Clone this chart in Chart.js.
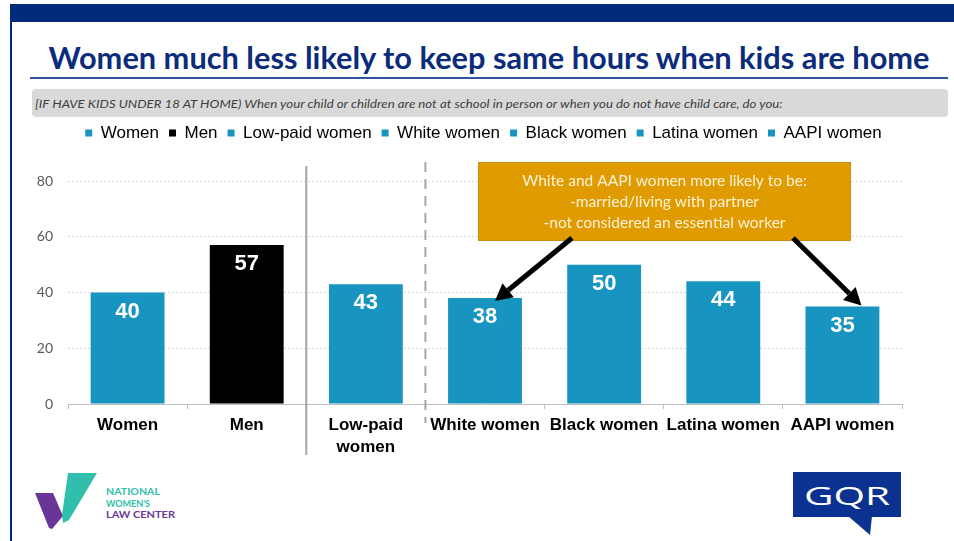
<!DOCTYPE html>
<html lang="en">
<head>
<meta charset="UTF-8">
<meta name="viewport" content="width=device-width, initial-scale=1.0">
<title>Women much less likely to keep same hours when kids are home</title>
<style>
    body {
        margin: 0;
        width: 954px;
        height: 541px;
        position: relative;
        overflow: hidden;
        background: #fff;
        font-family: Lato, 'Open Sans', sans-serif;
    }

    .top-bar { position: absolute; left: 10px; top: 4px; right: 0; height: 18px; background: #012a7c; }
    .left-line { position: absolute; left: 10px; top: 4px; bottom: 0; width: 2px; background: #012a7c; }

    .title {
        position: absolute;
        left: 30px;
        width: 918px;
        top: 38px;
        display: flex;
        justify-content: center;
        white-space: nowrap;
        font-size: 31px;
        font-weight: 700;
        color: #0b2c7a;
    }
    .title span { display: inline-block; }

    .title-rule { position: absolute; left: 30px; width: 918px; top: 77px; height: 2px; background: #3152a0; }

    .question {
        position: absolute;
        left: 32px;
        width: 916px;
        top: 89px;
        height: 28px;
        background: #d9d9d9;
        border-radius: 4px;
        font-size: 11px;
        font-style: italic;
        color: #404040;
        line-height: 29px;
        white-space: nowrap;
    }
    .question span { display: inline-block; margin-left: 3px; transform-origin: left center; }

    #chartWrap { position: absolute; left: 0; top: 100px; width: 954px; height: 364px; }

    .nwlc { position: absolute; left: 30px; top: 468px; }
    .gqr { position: absolute; left: 793px; top: 472px; }
</style>
</head>
<body>

<div class="top-bar"></div>
<div class="left-line"></div>

<div class="title"><span id="titleText">Women much less likely to keep same hours when kids are home</span></div>
<div class="title-rule"></div>
<div class="question"><span id="questionText">[IF HAVE KIDS UNDER 18 AT HOME) When your child or children are not at school in person or when you do not have child care, do you:</span></div>

<div id="chartWrap"><canvas id="hoursChart"></canvas></div>

<!-- logos -->
<svg class="nwlc" width="160" height="70" viewBox="0 0 160 70">
    <polygon points="5,25 23,25 33,48 22,61 19,60" fill="#6a3597"/>
    <polygon points="38,5 67,5 39,52 33,55 32,47" fill="#2fbfac"/>
    <g font-family="Lato, sans-serif" font-weight="700" font-size="9">
        <text x="76" y="27" fill="#2fbfac" textLength="54" lengthAdjust="spacingAndGlyphs">NATIONAL</text>
        <text x="76" y="39" fill="#2fbfac" textLength="44" lengthAdjust="spacingAndGlyphs">WOMEN'S</text>
        <text x="76" y="50" fill="#6a3597" textLength="69" lengthAdjust="spacingAndGlyphs">LAW CENTER</text>
    </g>
</svg>

<svg class="gqr" width="110" height="66" viewBox="0 0 110 66">
    <rect x="0" y="0" width="108" height="45" fill="#0b3291"/>
    <polygon points="55,44 79,44 77,63" fill="#0b3291"/>
    <text x="11" y="33" fill="#fff" font-family="'Open Sans', sans-serif" font-size="25" textLength="86" lengthAdjust="spacingAndGlyphs">GQR</text>
</svg>

<script src="https://cdn.jsdelivr.net/npm/chart.js"></script>
<script>
    // chart data
    const categories = ['Women', 'Men', ['Low-paid', 'women'], 'White women', 'Black women', 'Latina women', 'AAPI women'];
    const legendNames = ['Women', 'Men', 'Low-paid women', 'White women', 'Black women', 'Latina women', 'AAPI women'];
    const values = [40, 57, 43, 38, 50, 44, 35];
    const barColors = ['#1894c1', '#000000', '#1894c1', '#1894c1', '#1894c1', '#1894c1', '#1894c1'];
    const yTicks = [0, 20, 40, 60, 80];
    const calloutLines = [
        'White and AAPI women more likely to be:',
        '-married/living with partner',
        '-not considered an essential worker'
    ];

    // stretch the header texts to the width they take in the slide
    function fitWidth(id, target) {
        const el = document.getElementById(id);
        el.style.transform = 'scaleX(' + (target / el.offsetWidth) + ')';
    }
    fitWidth('titleText', 881);
    fitWidth('questionText', 748);

    // push the plot down below the legend, and centre the legend on the slide
    const legendSpacer = {
        id: 'legendSpacer',
        beforeInit(chart) {
            const fit = chart.legend.fit;
            chart.legend.fit = function () {
                fit.call(this);
                this.height += 29.5;
            };
        },
        afterLayout(chart) {
            chart.legend.left += 18.5;
            chart.legend.right += 18.5;
        }
    };

    function drawArrow(ctx, x1, y1, x2, y2) {
        const ang = Math.atan2(y2 - y1, x2 - x1);
        const head = 17, half = 9;
        const bx = x2 - head * Math.cos(ang), by = y2 - head * Math.sin(ang);
        ctx.strokeStyle = '#000';
        ctx.lineWidth = 5;
        ctx.beginPath();
        ctx.moveTo(x1, y1);
        ctx.lineTo(bx, by);
        ctx.stroke();
        ctx.fillStyle = '#000';
        ctx.beginPath();
        ctx.moveTo(x2, y2);
        ctx.lineTo(bx + half * Math.sin(ang), by - half * Math.cos(ang));
        ctx.lineTo(bx - half * Math.sin(ang), by + half * Math.cos(ang));
        ctx.closePath();
        ctx.fill();
    }

    // separators, value labels, callout box and arrows
    const slideDecor = {
        id: 'slideDecor',
        afterDraw(chart) {
            const ctx = chart.ctx;
            const x = chart.scales.x;
            const area = chart.chartArea;
            const bars = chart.getDatasetMeta(0).data;

            ctx.save();

            // solid line between men and low-paid women
            const solidX = (x.getPixelForValue(1) + x.getPixelForValue(2)) / 2;
            ctx.strokeStyle = '#a6a6a6';
            ctx.lineWidth = 2;
            ctx.beginPath();
            ctx.moveTo(solidX, area.top - 15);
            ctx.lineTo(solidX, area.bottom + 51);
            ctx.stroke();

            // dashed line before the race groups
            const dashX = (x.getPixelForValue(2) + x.getPixelForValue(3)) / 2;
            ctx.setLineDash([10, 7]);
            ctx.beginPath();
            ctx.moveTo(dashX, area.top - 19);
            ctx.lineTo(dashX, area.bottom + 19);
            ctx.stroke();
            ctx.setLineDash([]);

            // values inside the bars
            ctx.fillStyle = '#fff';
            ctx.font = 'bold 22px Arial, "Liberation Sans", sans-serif';
            ctx.textAlign = 'center';
            ctx.textBaseline = 'middle';
            bars.forEach((bar, i) => {
                ctx.fillText(values[i], bar.x, bar.y + 19);
            });

            // callout box
            const box = { left: area.left + 410, top: area.top - 19, width: 373, height: 79 };
            ctx.fillStyle = '#e09b00';
            ctx.fillRect(box.left, box.top, box.width, box.height);
            ctx.strokeStyle = '#c98d1c';
            ctx.lineWidth = 1;
            ctx.strokeRect(box.left + 0.5, box.top + 0.5, box.width - 1, box.height - 1);

            ctx.fillStyle = '#fdf1d6';
            ctx.font = '15.5px Lato, "Open Sans", sans-serif';
            calloutLines.forEach((line, i) => {
                ctx.fillText(line, box.left + box.width / 2, box.top + 19 + i * 21);
            });

            // arrows to white women and AAPI women
            const boxBottom = box.top + box.height;
            drawArrow(ctx, box.left + 94, boxBottom - 3, bars[3].x + 10, bars[3].y + 3);
            drawArrow(ctx, box.left + 315, boxBottom - 3, bars[6].x + 19, bars[6].y - 1);

            ctx.restore();
        }
    };

    const ctx = document.getElementById('hoursChart').getContext('2d');
    const chart = new Chart(ctx, {
        type: 'bar',
        data: {
            labels: categories,
            datasets: [{
                data: values,
                backgroundColor: barColors,
                borderWidth: 0,
                barPercentage: 1,
                categoryPercentage: 0.62
            }]
        },
        options: {
            responsive: true,
            maintainAspectRatio: false,
            animation: false,
            layout: { padding: { left: 28, right: 52, top: 14.5, bottom: 0 } },
            plugins: {
                legend: {
                    display: true,
                    position: 'top',
                    onClick: null,
                    labels: {
                        boxWidth: 7,
                        boxHeight: 7,
                        padding: 10,
                        color: '#404040',
                        font: { family: 'Arial, "Liberation Sans", sans-serif', size: 17 },
                        generateLabels: () => legendNames.map((name, i) => ({
                            text: name,
                            fillStyle: barColors[i],
                            strokeStyle: barColors[i],
                            lineWidth: 0,
                            hidden: false,
                            index: i
                        }))
                    }
                },
                tooltip: { enabled: false }
            },
            scales: {
                x: {
                    afterFit: (axis) => { axis.height = 60; },
                    grid: {
                        display: true,
                        drawOnChartArea: false,
                        drawTicks: true,
                        tickLength: 5,
                        color: '#bfbfbf'
                    },
                    border: { display: true, color: '#bfbfbf', width: 1 },
                    ticks: {
                        color: '#000',
                        padding: 5,
                        maxRotation: 0,
                        font: { family: 'Arial, "Liberation Sans", sans-serif', size: 17, weight: 'bold', lineHeight: 1.3 }
                    }
                },
                y: {
                    min: 0,
                    max: 80,
                    afterFit: (axis) => { axis.width = 40; },
                    afterBuildTicks: (axis) => { axis.ticks = yTicks.map(v => ({ value: v })); },
                    grid: {
                        drawTicks: false,
                        color: (c) => c.tick && c.tick.value === 0 ? 'rgba(0,0,0,0)' : '#d9d9d9',
                        lineWidth: 1
                    },
                    border: { display: false, dash: [2, 2] },
                    ticks: {
                        color: '#595959',
                        padding: 15,
                        font: { family: 'Lato, "Open Sans", sans-serif', size: 14 }
                    }
                }
            }
        },
        plugins: [legendSpacer, slideDecor]
    });
</script>
</body>
</html>
